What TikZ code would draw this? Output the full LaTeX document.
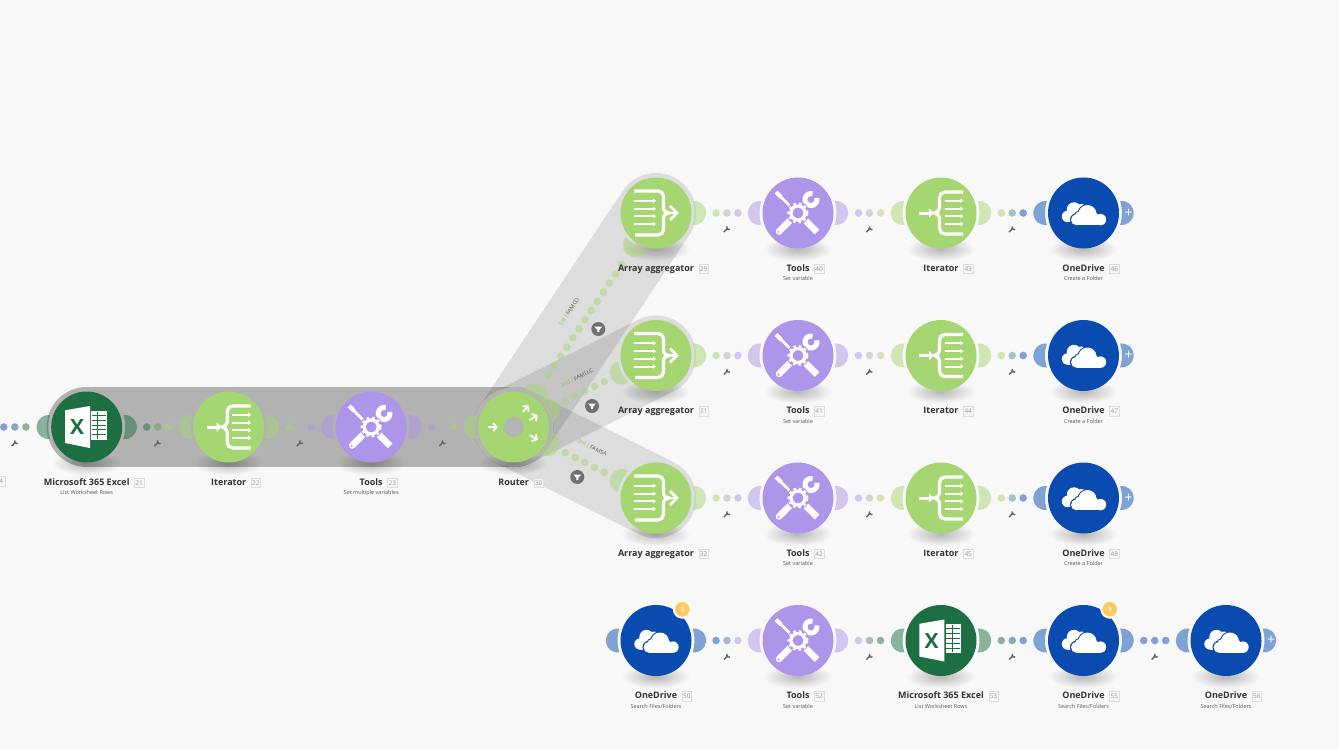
\documentclass[tikz,border=0pt]{standalone}
\usepackage{fontspec}
\setmainfont{Open Sans}
\usetikzlibrary{positioning, calc, arrows.meta}
\definecolor{pagegray}{HTML}{F8F8F8}
\definecolor{bandgray}{HTML}{B3B3B3}
\definecolor{modgreen}{HTML}{A6D672}
\definecolor{labelgreen}{HTML}{8CC455}
\definecolor{modpurple}{HTML}{AD95EA}
\definecolor{modblue}{HTML}{0A4BB0}
\definecolor{modexcel}{HTML}{1D6F42}
\definecolor{badgeyellow}{HTML}{FFC95C}
\pgfdeclarelayer{bands}
\pgfdeclarelayer{middle}
\pgfsetlayers{bands,middle,main}

\tikzset{
  module/.style={circle, fill=#1, minimum size=71pt, inner sep=0pt, outer sep=0pt},
  modtitle/.style={inner sep=0pt, text=black!80, text height=7pt, text depth=2pt,
    font=\fontsize{9}{9}\selectfont\bfseries},
  numbox/.style={draw=black!13, fill=black!3, inner sep=0pt, minimum size=9.5pt,
    text=black!40, font=\fontsize{6.5}{6.5}\selectfont},
  modsub/.style={inner sep=0pt, text=black!65, text height=4pt, text depth=1.5pt,
    font=\fontsize{5.5}{6}\selectfont},
  dot/.style={circle, fill=#1, fill opacity=.5, minimum size=7.6pt, inner sep=0pt},
  link/.style={draw=none},
  mainband/.style={draw=black, draw opacity=.28, line width=80pt, line cap=round, line join=round},
  sideband/.style={draw=black, draw opacity=.105, line width=80pt, line cap=round},
  filterdot/.style={circle, fill=black!56, minimum size=14pt, inner sep=0pt},
  routelabel/.style={inner sep=0pt, text=black!65, font=\fontsize{5.6}{6}\selectfont},
  badge/.style={circle, fill=badgeyellow, draw=white, line width=2pt, minimum size=17pt,
    inner sep=0pt, text=white, font=\fontsize{8}{8}\selectfont\bfseries},
  plus/.style={inner sep=0pt, text=white, font=\fontsize{14}{14}\selectfont}
}

% half disc beside a module
\newcommand{\moon}[3]{
  \begin{pgfonlayer}{middle}
    \fill[#3, fill opacity=.5, shift={(#1.center)}, rotate=#2]
      (36.6,-12) arc[start angle=-97, end angle=97, radius=12.1]
      arc[start angle=18, end angle=-18, radius=38.5] -- cycle;
  \end{pgfonlayer}
}
\newcommand{\modshadow}[1]{
  \begin{pgfonlayer}{middle}
    \foreach \s in {1,...,16}
      \fill[black, fill opacity=.014, shift={(#1.center)}]
        (0,-36.5) ellipse[x radius=2.1*\s, y radius=.72*\s];
  \end{pgfonlayer}
}
\newcommand{\modlabel}[4]{
  \modshadow{#1}
  \node[modtitle, below=15.5pt of #1] (#1title) {#2};
  \node[numbox, right=4.5pt of #1title] (#1num) {#3};
  \node[modsub, below=3pt of #1title] (#1sub) {#4};
}
\newcommand{\wrench}[1]{
  \begin{scope}[shift={(#1)}, black!60]
    \draw[line width=1.5pt] (-3.2,-3) -- (1,1);
    \draw[line width=1.2pt] (.2,2.6) arc[start angle=120, end angle=330, radius=1.9];
  \end{scope}
}
% three dots and the wrench between two modules
\newcommand{\linkdots}[5]{
  \begin{pgfonlayer}{middle}
    \draw[link] (#1.center) --
      node[dot=#3, pos=.423] (#1d1) {}
      node[dot=#4, pos=.5] (#1d2) {}
      node[dot=#5, pos=.577] (#1d3) {} (#2.center);
  \end{pgfonlayer}
  \wrench{$(#1d2)+(0,-16)$}
}
\newcommand{\iconiter}[1]{
  \begin{scope}[shift={(#1.center)}, white]
    \draw[line width=3.2pt]
      (22,21) -- (4,21) arc[start angle=90, end angle=180, radius=5.5] -- (-1.5,5)
      .. controls (-1.5,2) and (-4,.8) .. (-6.5,0)
      .. controls (-4,-.8) and (-1.5,-2) .. (-1.5,-5) -- (-1.5,-15.5)
      arc[start angle=180, end angle=270, radius=5.5] -- (22,-21);
    \foreach \h in {12.3,4.3,-3.3,-11}
      \draw[line width=2pt, -{Latex[length=3pt, width=5pt]}] (3.5,\h) -- (22.5,\h);
    \draw[line width=3pt, -{Latex[length=5.5pt, width=10pt]}] (-22,0) -- (-6.5,0);
  \end{scope}
}
\newcommand{\iconarr}[1]{
  \begin{scope}[shift={(#1.center)}, white]
    \draw[line width=3.2pt]
      (-22,22) -- (2,22) arc[start angle=90, end angle=0, radius=5.5] -- (7.5,5.5)
      .. controls (7.5,2) and (10,0) .. (13,0)
      .. controls (10,0) and (7.5,-2) .. (7.5,-5.5) -- (7.5,-16.5)
      arc[start angle=0, end angle=-90, radius=5.5] -- (-21,-22);
    \foreach \h in {12.3,4.3,-3.3,-11}
      \draw[line width=2pt, -{Latex[length=3pt, width=5pt]}] (-22,\h) -- (0,\h);
    \draw[line width=2.6pt] (8,0) -- (20,0);
    \draw[line width=2.8pt] (14,7) -- (21,0) -- (14,-7);
  \end{scope}
}
\newcommand{\icontools}[1]{
  \begin{scope}[shift={(#1.center)}, white]
    \draw[line width=2.8pt] (-19,18) -- (-8,7);
    \draw[line width=4pt] (-22,21) -- (-17,16);
    \draw[line width=6.5pt, line cap=round] (-19,-18.5) -- (-6,-5.5);
    \fill[modpurple] (-19.5,-19) circle (1.2);
    \draw[line width=6.5pt] (5,-5) -- (19,-19);
    \draw[line width=5pt] (3,3) -- (9,9);
    \draw[line width=5pt] (13,13.5) ++(75:6) arc[start angle=75, end angle=375, radius=6];
    \fill[modpurple] (0,0) circle (11.5);
    \draw[line width=3.2pt] (0,0) circle (7);
    \draw[line width=2.4pt, dash pattern=on 2.6pt off 2.9pt] (0,0) circle (9.3);
  \end{scope}
}
\newcommand{\icondrive}[1]{
  \begin{scope}[shift={(#1.center)}]
    \foreach \c/\rad in {{-16,-3.5}/5.7, {-9.5,3.5}/7.2, {-2,3}/6, {-10,-4}/5.2}
      \fill[white] (\c) circle (\rad);
    \fill[white] (-16,-9.2) rectangle (-6,-2);
    \foreach \c/\rad in {{-7,-6.8}/5.5, {4,-1}/9, {17,-6.6}/5.7, {-4,-3}/4.5}
      \fill[modblue] (\c) circle (\rad+1.1);
    \foreach \c/\rad in {{-7,-6.8}/5.5, {4,-1}/9, {17,-6.6}/5.7, {-4,-3}/4.5, {10,-4}/5}
      \fill[white] (\c) circle (\rad);
    \fill[white] (-7,-12.3) rectangle (17,-4);
  \end{scope}
}
\newcommand{\iconexcel}[1]{
  \begin{scope}[shift={(#1.center)}, white]
    \fill (4.5,16.5) rectangle (20,-12.5);
    \foreach \h in {11.7,6.9,2.1,-2.7,-7.5}
      \draw[modexcel, line width=.7pt] (5,\h) -- (19,\h);
    \draw[modexcel, line width=.7pt] (11,15.5) -- (11,-11.5);
    \fill (-21.7,16.7) -- (3.3,21) -- (3.3,-21) -- (-21.7,-16) -- cycle;
    \node[inner sep=0pt, text=modexcel, font=\fontsize{21}{21}\selectfont\bfseries] (#1x) at (-9.5,0) {X};
  \end{scope}
}
\newcommand{\iconrouter}[1]{
  \begin{scope}[shift={(#1.center)}, white, line width=1.8pt]
    \fill[bandgray] (0,0) circle (10);
    \draw[-{Straight Barb[length=3.4pt, width=8pt]}] (-26,0) -- (-16,0);
    \draw[-{Straight Barb[length=3.4pt, width=8pt]}] (9,15) -- (15,21.5);
    \draw[-{Straight Barb[length=3.4pt, width=8pt]}] (16,7) -- (24,12);
    \draw[-{Straight Barb[length=3.4pt, width=8pt]}] (16,-8) -- (24,-13);
  \end{scope}
}
\newcommand{\funnel}[1]{
  \fill[white, shift={(#1.center)}] (-4,2.5) -- (4,2.5) -- (1,-.8) -- (1,-3.2) -- (-1,-3.2) -- (-1,-.8) -- cycle;
}

\begin{document}
\begin{tikzpicture}[x=1pt, y=1pt]
  \useasboundingbox (0,-749) rectangle (1339,0);
  \begin{pgfonlayer}{bands}
    \fill[pagegray] (0,-749) rectangle (1339,0);
  \end{pgfonlayer}

  % MAIN ROW
  \coordinate (prev) at (-57,-427);
  \node[module=modexcel] (excel) at (86.7,-427) {};
  \node[module=modgreen, right=71pt of excel] (iter) {};
  \node[module=modpurple, right=71.5pt of iter] (tools) {};
  \node[module=modgreen, right=71.5pt of tools] (router) {};

  \iconexcel{excel}
  \iconiter{iter}
  \icontools{tools}
  \iconrouter{router}

  \modlabel{excel}{Microsoft 365 Excel}{21}{List Worksheet Rows}
  \modlabel{iter}{Iterator}{22}{}
  \modlabel{tools}{Tools}{23}{Set multiple variables}
  \modlabel{router}{Router}{30}{}
  \node[numbox, minimum width=7pt, anchor=east] (prevnum) at (5,-481) {4};

  \moon{excel}{180}{modexcel}
  \moon{excel}{0}{modexcel}
  \moon{iter}{180}{modgreen}
  \moon{iter}{0}{modgreen}
  \moon{tools}{180}{modpurple}
  \moon{tools}{0}{modpurple}
  \moon{router}{180}{modgreen}
  \moon{router}{56.2}{modgreen}
  \moon{router}{26.6}{modgreen}
  \moon{router}{-26.6}{modgreen}

  \begin{pgfonlayer}{middle}
    \draw[link] (prev) --
      node[dot=modblue, pos=.423] (prevd1) {}
      node[dot=modblue!50!modexcel, pos=.5] (prevd2) {}
      node[dot=modexcel, pos=.577] (prevd3) {} (excel.center);
  \end{pgfonlayer}
  \wrench{$(prevd2)+(0,-16)$}
  \linkdots{excel}{iter}{modexcel}{modexcel!50!modgreen}{modgreen}
  \linkdots{iter}{tools}{modgreen}{modgreen!50!modpurple}{modpurple}
  \linkdots{tools}{router}{modpurple}{modpurple!50!modgreen}{modgreen}

  % THREE BRANCHES
  \foreach \r/\ypos/\back/\na/\nt/\ni/\nd in {1/213/236.2/29/40/43/46,
      2/355.5/206.6/31/41/44/47, 3/498/153.4/32/42/45/48} {
    \node[module=modgreen] (arr\r) at (656,-\ypos) {};
    \node[module=modpurple, right=71pt of arr\r] (tools\r) {};
    \node[module=modgreen, right=72pt of tools\r] (iter\r) {};
    \node[module=modblue, right=71.5pt of iter\r] (drive\r) {};

    \iconarr{arr\r}
    \icontools{tools\r}
    \iconiter{iter\r}
    \icondrive{drive\r}

    \modlabel{arr\r}{Array aggregator}{\na}{}
    \modlabel{tools\r}{Tools}{\nt}{Set variable}
    \modlabel{iter\r}{Iterator}{\ni}{}
    \modlabel{drive\r}{OneDrive}{\nd}{Create a Folder}

    \moon{arr\r}{\back}{modgreen}
    \moon{arr\r}{0}{modgreen}
    \moon{tools\r}{180}{modpurple}
    \moon{tools\r}{0}{modpurple}
    \moon{iter\r}{180}{modgreen}
    \moon{iter\r}{0}{modgreen}
    \moon{drive\r}{180}{modblue}
    \moon{drive\r}{0}{modblue}
    \node[plus] (plus\r) at ($(drive\r)+(45,0)$) {+};

    \linkdots{arr\r}{tools\r}{modgreen}{modgreen!50!modpurple}{modpurple}
    \linkdots{tools\r}{iter\r}{modpurple}{modpurple!50!modgreen}{modgreen}
    \linkdots{iter\r}{drive\r}{modgreen}{modgreen!50!modblue}{modblue}
  }

  % ROUTES
  \begin{pgfonlayer}{bands}
    \draw[sideband] (router.center) -- (arr1.center);
    \draw[sideband] (router.center) -- (arr2.center);
    \draw[sideband] (router.center) -- (arr3.center);
    \draw[mainband] (excel.center) -- (iter.center) -- (tools.center) -- (router.center);
    \fill[bandgray] (router.center) circle (40);
  \end{pgfonlayer}
  \begin{pgfonlayer}{middle}
    \foreach \t in {63,74,...,195}
      \path (router.center) -- node[dot=modgreen, pos=\t/257.2] {} (arr1.center);
    \foreach \t in {58,69,...,102} {
      \path (router.center) -- node[dot=modgreen, pos=\t/160.2] {} (arr2.center);
      \path (router.center) -- node[dot=modgreen, pos=\t/160.2] {} (arr3.center);
    }
  \end{pgfonlayer}

  \node[filterdot] (filter1) at (598.3,-329) {};
  \node[filterdot] (filter2) at (592,-406) {};
  \node[filterdot] (filter3) at (577.3,-477) {};
  \funnel{filter1}
  \funnel{filter2}
  \funnel{filter3}
  \node[routelabel, rotate=56.2] (route1) at (569.5,-312) {\textcolor{labelgreen}{1st\,|}\,FAMCO};
  \node[routelabel, rotate=26.6] (route2) at (577,-378.5) {\textcolor{labelgreen}{2nd\,|}\,FAMLLC};
  \node[routelabel, rotate=-26.6] (route3) at (592,-448) {\textcolor{labelgreen}{3rd\,|}\,FAMSA};

  % LAST ROW
  \node[module=modblue] (drive50) at (656,-640.5) {};
  \node[module=modpurple, right=71pt of drive50] (tools52) {};
  \node[module=modexcel, right=72pt of tools52] (excel53) {};
  \node[module=modblue, right=71.5pt of excel53] (drive55) {};
  \node[module=modblue, right=71.5pt of drive55] (drive56) {};

  \icondrive{drive50}
  \icontools{tools52}
  \iconexcel{excel53}
  \icondrive{drive55}
  \icondrive{drive56}

  \modlabel{drive50}{OneDrive}{50}{Search Files/Folders}
  \modlabel{tools52}{Tools}{52}{Set variable}
  \modlabel{excel53}{Microsoft 365 Excel}{53}{List Worksheet Rows}
  \modlabel{drive55}{OneDrive}{55}{Search Files/Folders}
  \modlabel{drive56}{OneDrive}{56}{Search Files/Folders}

  \moon{drive50}{180}{modblue}
  \moon{drive50}{0}{modblue}
  \moon{tools52}{180}{modpurple}
  \moon{tools52}{0}{modpurple}
  \moon{excel53}{180}{modexcel}
  \moon{excel53}{0}{modexcel}
  \moon{drive55}{180}{modblue}
  \moon{drive55}{0}{modblue}
  \moon{drive56}{180}{modblue}
  \moon{drive56}{0}{modblue}
  \node[plus] (plus56) at ($(drive56)+(45,0)$) {+};

  \linkdots{drive50}{tools52}{modblue}{modblue!50!modpurple}{modpurple}
  \linkdots{tools52}{excel53}{modpurple}{modpurple!50!modexcel}{modexcel}
  \linkdots{excel53}{drive55}{modexcel}{modexcel!50!modblue}{modblue}
  \linkdots{drive55}{drive56}{modblue}{modblue}{modblue}

  \node[badge] (badge50) at ($(drive50)+(26.3,31.3)$) {1};
  \node[badge] (badge55) at ($(drive55)+(26.3,31.3)$) {1};
\end{tikzpicture}
\end{document}
